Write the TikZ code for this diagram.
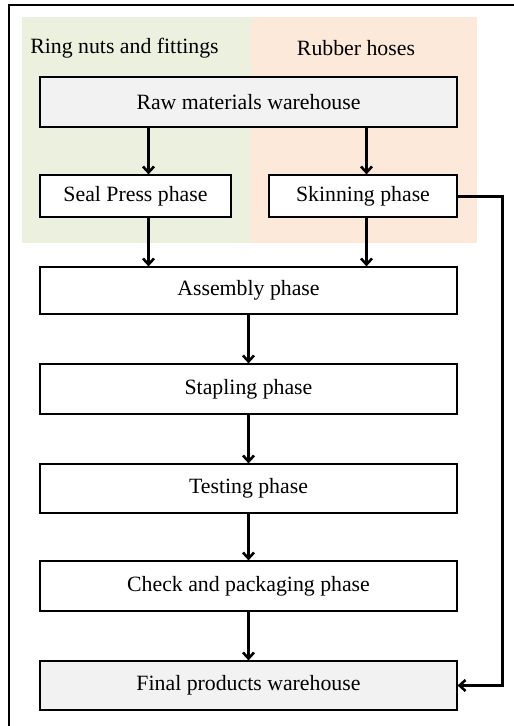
\documentclass[tikz,border=0pt]{standalone}
\usepackage{fontspec}
\setmainfont{Liberation Serif}
\usetikzlibrary{arrows.meta}
\definecolor{bggreen}{HTML}{EBF1DE}
\definecolor{bgorange}{HTML}{FDE9D9}
\definecolor{boxgray}{HTML}{F2F2F2}
\begin{document}
\begin{tikzpicture}[x=1pt,y=-1pt,
  stepbox/.style={draw=black,line width=1.2pt,fill=white,inner sep=0pt,font=\fontsize{21.8}{25}\selectfont},
  whbox/.style={stepbox,fill=boxgray},
  flow/.style={line width=2.6pt,-{Straight Barb[length=6pt,width=11pt]}},
  lbl/.style={font=\fontsize{21.8}{25}\selectfont,inner sep=0pt}]
\useasboundingbox (0,0) rectangle (514,726);
\fill[bggreen] (22,17) rectangle (251,243);
\fill[bgorange] (251,17) rectangle (477,243);
\draw[line width=2pt] (9,730) -- (9,4.5) -- (520,4.5);
\node[lbl] (lg) at (124.5,48) {Ring nuts and fittings};
\node[lbl] (lo) at (356,48) {Rubber hoses};
\node[whbox,minimum width=417pt,minimum height=50pt] (raw) at (248.5,102) {Raw materials warehouse};
\node[stepbox,minimum width=191pt,minimum height=42pt] (seal) at (135.5,196) {Seal Press phase};
\node[stepbox,minimum width=188pt,minimum height=42pt] (skin) at (363,196) {Skinning phase};
\node[stepbox,minimum width=417pt,minimum height=47pt] (asm) at (248.5,290.5) {Assembly phase};
\node[stepbox,minimum width=417pt,minimum height=50pt] (stap) at (248.5,389) {Stapling phase};
\node[stepbox,minimum width=417pt,minimum height=49pt] (test) at (248.5,488.5) {Testing phase};
\node[stepbox,minimum width=417pt,minimum height=50pt] (chk) at (248.5,586) {Check and packaging phase};
\node[whbox,minimum width=417pt,minimum height=49pt] (fin) at (248.5,685.5) {Final products warehouse};
\coordinate (xl) at (148.5,0);
\coordinate (xr) at (366.5,0);
\coordinate (c1) at (502.5,196.5);
\coordinate (c2) at (502.5,685.5);
\draw[flow,line width=2.6pt] (raw.south -| xl) -- (seal.north -| xl);
\draw[flow,line width=2.6pt] (raw.south -| xr) -- (skin.north -| xr);
\draw[flow,line width=2.6pt] (seal.south -| xl) -- (asm.north -| xl);
\draw[flow,line width=2.6pt] (skin.south -| xr) -- (asm.north -| xr);
\draw[flow] (asm) -- (stap);
\draw[flow] (stap) -- (test);
\draw[flow] (test) -- (chk);
\draw[flow] (chk) -- (fin);
\draw[flow,line width=2.6pt] (skin.east |- c1) -- (c1) -- (c2) -- (fin.east);
\end{tikzpicture}
\end{document}
